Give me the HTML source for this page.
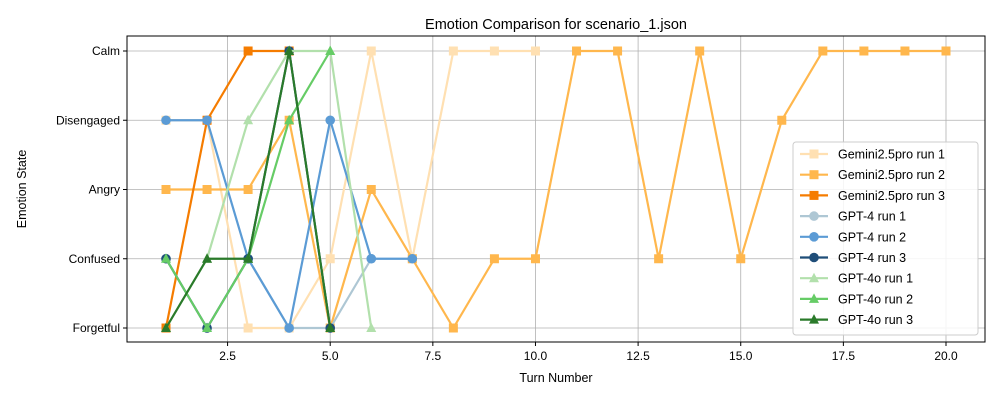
<!DOCTYPE html>
<html><head><meta charset="utf-8"><style>body{margin:0;background:#fff}svg{font-family:"Liberation Sans",sans-serif}</style></head>
<body>
<svg id="c" width="1000" height="400"></svg>
<script>
const categories=["Forgetful","Confused","Angry","Disengaged","Calm"];
const xTicks=[2.5,5.0,7.5,10.0,12.5,15.0,17.5,20.0];
const seriesNames=["Gemini2.5pro run 1","Gemini2.5pro run 2","Gemini2.5pro run 3","GPT-4 run 1","GPT-4 run 2","GPT-4 run 3","GPT-4o run 1","GPT-4o run 2","GPT-4o run 3"];
const gem1=[3,3,0,0,1,4,1,4,4,4];
const gem2=[2,2,2,3,0,2,1,0,1,1,4,4,1,4,1,3,4,4,4,4];
const gem3=[0,3,4,4];
const gpt4r1=[1,0,1,0,0,1];
const gpt4r2=[3,3,1,0,3,1,1];
const gpt4r3=[1,0,1,4,0];
const gpt4o1=[0,1,3,4,4,0];
const gpt4o2=[1,0,1,3,4];
const gpt4o3=[0,1,1,4,0];
const seriesData=[gem1,gem2,gem3,gpt4r1,gpt4r2,gpt4r3,gpt4o1,gpt4o2,gpt4o3];
const colors=["#ffe0b2","#ffb74d","#f57c00","#aec7d4","#5b9bd5","#1f4e79","#b2e0ac","#66cc66","#2a7a2a"];
const markers=["s","s","s","o","o","o","^","^","^"];
const L=127,R=985,T=36,B=342;
const xMin=0.05,xMax=20.95;
const sx=v=>L+(v-xMin)/(xMax-xMin)*(R-L);
const sy=i=>328-i*(328-51)/4;
const NS="http://www.w3.org/2000/svg";
const svg=document.getElementById('c');
function el(t,a,p){const e=document.createElementNS(NS,t);for(const k in a)e.setAttribute(k,a[k]);(p||svg).appendChild(e);return e;}
// grid
xTicks.forEach(v=>{const g=el('line',{x1:sx(v),x2:sx(v),y1:T,y2:B,stroke:'#b0b0b0','stroke-width':0.8});


el('line',{x1:sx(v),x2:sx(v),y1:B,y2:B+4,stroke:'#000'});
const t=el('text',{x:sx(v),y:B+18,'text-anchor':'middle','font-size':12});t.textContent=v.toFixed(1);

});
categories.forEach((c,i)=>{const g=el('line',{x1:L,x2:R,y1:sy(i),y2:sy(i),stroke:'#b0b0b0','stroke-width':0.8});


el('line',{x1:L-4,x2:L,y1:sy(i),y2:sy(i),stroke:'#000'});
const t=el('text',{x:L-7,y:sy(i)+4,'text-anchor':'end','font-size':12});t.textContent=c;

});
// series
seriesData.forEach((d,s)=>{const g=el('g',{});


el('polyline',{points:d.map((v,i)=>sx(i+1)+','+sy(v)).join(' '),fill:'none',stroke:colors[s],'stroke-width':2.2},g);
d.forEach((v,i)=>drawMarker(g,markers[s],sx(i+1),sy(v),colors[s]));});
function drawMarker(g,m,x,y,c){let e;
if(m=='s')e=el('rect',{x:x-4.5,y:y-4.5,width:9,height:9,fill:c},g);
else if(m=='o')e=el('circle',{cx:x,cy:y,r:4.8,fill:c},g);
else e=el('polygon',{points:`${x},${y-5.5} ${x-5},${y+4} ${x+5},${y+4}`,fill:c},g);
return e;}
// frame
const f=el('rect',{x:L,y:T,width:R-L,height:B-T,fill:'none',stroke:'#000','stroke-width':1});


let t=el('text',{x:(L+R)/2,y:29,'text-anchor':'middle','font-size':14.5});t.textContent='Emotion Comparison for scenario_1.json';


t=el('text',{x:(L+R)/2,y:382,'text-anchor':'middle','font-size':12.5});t.textContent='Turn Number';


t=el('text',{x:26,y:189,'text-anchor':'middle','font-size':12.5,transform:'rotate(-90 26 189)'});t.textContent='Emotion State';


// legend
const lg=el('g',{});


el('rect',{x:793,y:142,width:185,height:193,rx:3,fill:'#fff','fill-opacity':0.85,stroke:'#ccc'},lg);
seriesNames.forEach((n,s)=>{const y=154+s*20.7;const g=el('g',{},lg);


el('line',{x1:800,x2:828,y1:y,y2:y,stroke:colors[s],'stroke-width':2.2},g);
drawMarker(g,markers[s],814,y,colors[s]);
const tt=el('text',{x:838,y:y+4.5,'font-size':12.5},g);tt.textContent=n;});
</script>
</body></html>
